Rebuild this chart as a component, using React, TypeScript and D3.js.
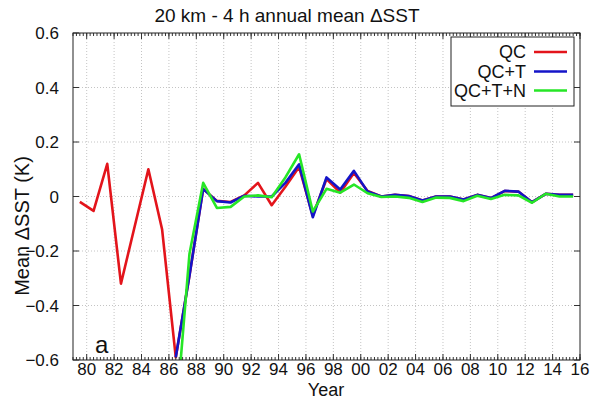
import React from "react";
import * as d3 from "d3";

// Annual mean ΔSST (K), one value per year, plotted at mid-year
const yearsQC = d3.range(1979, 2016);
const valuesQC = [
  -0.02, -0.053, 0.12, -0.32, -0.11, 0.1, -0.12, -0.59, -0.29, 0.028,
  -0.016, -0.02, 0.004, 0.05, -0.032, 0.036, 0.108, -0.07, 0.064, 0.014,
  0.086, 0.02, 0.0, 0.006, 0.002, -0.015, 0.0, 0.0, -0.011, 0.006,
  -0.006, 0.02, 0.018, -0.021, 0.01, 0.006, 0.006,
];

const yearsT = d3.range(1986, 2016);
const valuesQCT = [
  -0.59, -0.29, 0.027, -0.017, -0.022, 0.003, 0.0, 0.0, 0.05, 0.118,
  -0.076, 0.07, 0.026, 0.094, 0.018, 0.0, 0.006, 0.002, -0.015, 0.0,
  0.0, -0.011, 0.006, -0.006, 0.021, 0.018, -0.021, 0.01, 0.006, 0.006,
];
const valuesQCTN = [
  -0.82, -0.21, 0.05, -0.042, -0.038, 0.0, 0.004, -0.003, 0.07, 0.155,
  -0.055, 0.028, 0.014, 0.044, 0.012, -0.002, 0.0, -0.005, -0.02, -0.004,
  -0.005, -0.017, 0.003, -0.009, 0.006, 0.004, -0.023, 0.01, 0.0, 0.0,
];

const seriesNames = ["QC", "QC+T", "QC+T+N"];
const seriesColors = ["#e3141b", "#1414c8", "#26e626"];

const xTickYears = d3.range(1980, 2017, 2);
const yTickValues = [-0.6, -0.4, -0.2, 0, 0.2, 0.4, 0.6];

const title = "20 km - 4 h annual mean ΔSST";
const xLabel = "Year";
const yLabel = "Mean ΔSST (K)";
const panelTag = "a";

const W = 591;
const H = 400;
const plot = { left: 73, right: 580, top: 33, bottom: 360 };
const font = "'Liberation Sans', Arial, Helvetica, sans-serif";

export default function App() {
  const x = d3.scaleLinear().domain([1979, 2016]).range([plot.left, plot.right]);
  const y = d3.scaleLinear().domain([-0.6, 0.6]).range([plot.bottom, plot.top]);

  const line = d3
    .line<[number, number]>()
    .x((d) => x(d[0] + 0.5))
    .y((d) => y(d[1]));

  const series: [number, number][][] = [
    yearsQC.map((yr, i) => [yr, valuesQC[i]]),
    yearsT.map((yr, i) => [yr, valuesQCT[i]]),
    yearsT.map((yr, i) => [yr, valuesQCTN[i]]),
  ];

  const minorX = d3.range(1979, 2016.001, 0.25);
  const fmtYear = (yr: number) => String(yr % 100).padStart(2, "0");
  const fmtY = (v: number) => (Math.abs(v) < 1e-9 ? "0" : d3.format(".1f")(v));

  const legend = { x0: 451, y0: 37, x1: 574, y1: 106 };
  const legendRows = [58, 77.5, 96.5];

  return (
    <svg
      width={W}
      height={H}
      style={{ position: "absolute", left: 0, top: 0, background: "#fff" }}
      fontFamily={font}
    >
      <defs>
        <clipPath id="plot-clip">
          <rect
            x={plot.left}
            y={plot.top}
            width={plot.right - plot.left}
            height={plot.bottom - plot.top}
          />
        </clipPath>
      </defs>
      <rect width={W} height={H} fill="#fff" />

      {/* grid */}
      <g stroke="#c4c4c4" strokeWidth={1} strokeDasharray="1,2">
        {xTickYears
          .filter((yr) => x(yr) > plot.left + 1 && x(yr) < plot.right - 1)
          .map((yr) => (
            <line key={"gx" + yr} x1={x(yr)} x2={x(yr)} y1={plot.top} y2={plot.bottom} />
          ))}
        {yTickValues
          .filter((v) => v > -0.6 && v < 0.6)
          .map((v) => (
            <line key={"gy" + v} x1={plot.left} x2={plot.right} y1={y(v)} y2={y(v)} />
          ))}
      </g>

      {/* series */}
      <g clipPath="url(#plot-clip)" fill="none" strokeWidth={2.6} strokeLinejoin="round">
        {series.map((s, i) => (
          <path key={seriesNames[i]} d={line(s) || ""} stroke={seriesColors[i]} />
        ))}
      </g>

      {/* ticks */}
      <g stroke="#333" strokeWidth={1}>
        {minorX.map((t) => (
          <g key={"mx" + t}>
            <line x1={x(t)} x2={x(t)} y1={plot.bottom} y2={plot.bottom - 3} />
            <line x1={x(t)} x2={x(t)} y1={plot.top} y2={plot.top + 3} />
          </g>
        ))}
        {xTickYears.map((yr) => (
          <g key={"tx" + yr}>
            <line x1={x(yr)} x2={x(yr)} y1={plot.bottom} y2={plot.bottom - 6} />
            <line x1={x(yr)} x2={x(yr)} y1={plot.top} y2={plot.top + 6} />
          </g>
        ))}
        {yTickValues.map((v) => (
          <g key={"ty" + v}>
            <line x1={plot.left} x2={plot.left + 6} y1={y(v)} y2={y(v)} />
            <line x1={plot.right} x2={plot.right - 6} y1={y(v)} y2={y(v)} />
          </g>
        ))}
      </g>

      {/* frame */}
      <rect
        x={plot.left}
        y={plot.top}
        width={plot.right - plot.left}
        height={plot.bottom - plot.top}
        fill="none"
        stroke="#222"
        strokeWidth={1}
      />

      {/* tick labels */}
      <g fontSize={17} fill="#111">
        {xTickYears.map((yr) => (
          <text key={"lx" + yr} x={x(yr)} y={375} textAnchor="middle">
            {fmtYear(yr)}
          </text>
        ))}
        {yTickValues.map((v) => (
          <text key={"ly" + v} x={59} y={y(v) + 6} textAnchor="end">
            {fmtY(v)}
          </text>
        ))}
      </g>

      {/* titles */}
      <text x={287} y={22} textAnchor="middle" fontSize={19} fill="#111">
        {title}
      </text>
      <text x={326} y={396} textAnchor="middle" fontSize={18} fill="#111">
        {xLabel}
      </text>
      <text
        transform={`translate(29,${226}) rotate(-90)`}
        textAnchor="middle"
        fontSize={20}
        fill="#111"
      >
        {yLabel}
      </text>
      <text x={95} y={353} fontSize={24} fill="#111">
        {panelTag}
      </text>

      {/* legend */}
      <rect
        x={legend.x0}
        y={legend.y0}
        width={legend.x1 - legend.x0}
        height={legend.y1 - legend.y0}
        fill="#fff"
        stroke="#222"
        strokeWidth={1}
      />
      {seriesNames.map((name, i) => (
        <g key={"lg" + name}>
          <text x={526} y={legendRows[i]} textAnchor="end" fontSize={18} fill="#111">
            {name}
          </text>
          <line
            x1={534}
            x2={567}
            y1={legendRows[i] - 6}
            y2={legendRows[i] - 6}
            stroke={seriesColors[i]}
            strokeWidth={2.6}
          />
        </g>
      ))}
    </svg>
  );
}
